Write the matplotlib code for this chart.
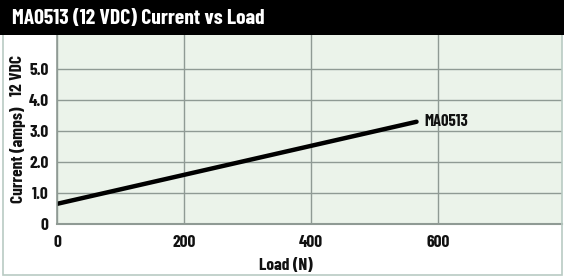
import matplotlib
matplotlib.use('Agg')
import matplotlib.pyplot as plt
from matplotlib.patches import Rectangle

# ── data ──────────────────────────────────────────────────────────────────────
load_n = [0, 566]
current_a = [0.65, 3.3]
series_name = 'MA0513'
x_ticks = [0, 200, 400, 600]
y_ticks = [0, 1, 2, 3, 4, 5]
y_tick_labels = ['0', '1.0', '2.0', '3.0', '4.0', '5.0']

FONT = ['Barlow Condensed', 'DejaVu Sans']
W, H = 564, 277

fig = plt.figure(figsize=(W / 100, H / 100), dpi=100)
fig.patch.set_facecolor('white')

# outer frame and title bar
fig.patches.append(Rectangle((3 / W, 2 / H), (W - 5) / W, (H - 4) / H, transform=fig.transFigure,
                             fill=False, ec='#b9cbc3', lw=1.2))
fig.patches.append(Rectangle((0, (H - 35) / H), 1, 35 / H, transform=fig.transFigure,
                             fc='black', ec='none'))
fig.text(12 / W, 1 - 18 / H, 'MA0513 (12 VDC) Current vs Load', color='white',
         family=FONT, weight='bold', fontsize=15.5, va='center', ha='left')

ax = fig.add_axes([57 / W, (H - 224) / H, (562 - 57) / W, (224 - 35) / H])
ax.set_facecolor('#ebf3ea')
ax.plot(load_n, current_a, color='black', lw=3.2, solid_capstyle='round')
ax.text(load_n[-1] + 12, current_a[-1], series_name, family=FONT, weight='bold',
        fontsize=12, va='center', ha='left', color='#111111')

ax.set_xlim(0, 795)
ax.set_ylim(0, 6.1)
ax.set_xticks(x_ticks)
ax.set_yticks(y_ticks)
ax.set_yticklabels(y_tick_labels)
ax.tick_params(length=0, labelsize=12.5)
ax.tick_params(axis='x', pad=8)
ax.tick_params(axis='y', pad=6)
for lbl in ax.get_xticklabels() + ax.get_yticklabels():
    lbl.set_family(FONT)
    lbl.set_weight('bold')
    lbl.set_color('#111111')
ax.grid(True, color='#8f9a94', lw=1.0)
ax.set_axisbelow(True)
for s in ['top', 'right']:
    ax.spines[s].set_visible(False)
ax.spines['left'].set_color('#8f9a94')
ax.spines['bottom'].set_color('#8f9a94')
ax.spines['left'].set_linewidth(1.2)
ax.spines['bottom'].set_linewidth(1.5)

fig.text(286 / W, 1 - 266 / H, 'Load (N)', family=FONT, weight='bold', fontsize=12.5,
         ha='center', va='center', color='#111111')
fig.text(18 / W, 1 - 155 / H, 'Current (amps)', family=FONT, weight='bold', fontsize=12.5,
         ha='center', va='center', rotation=90, color='#111111')
fig.text(18 / W, 1 - 75 / H, '12 VDC', family=FONT, weight='bold', fontsize=12.5,
         ha='center', va='center', rotation=90, color='#111111')

fig.savefig('out.png', dpi=100)
